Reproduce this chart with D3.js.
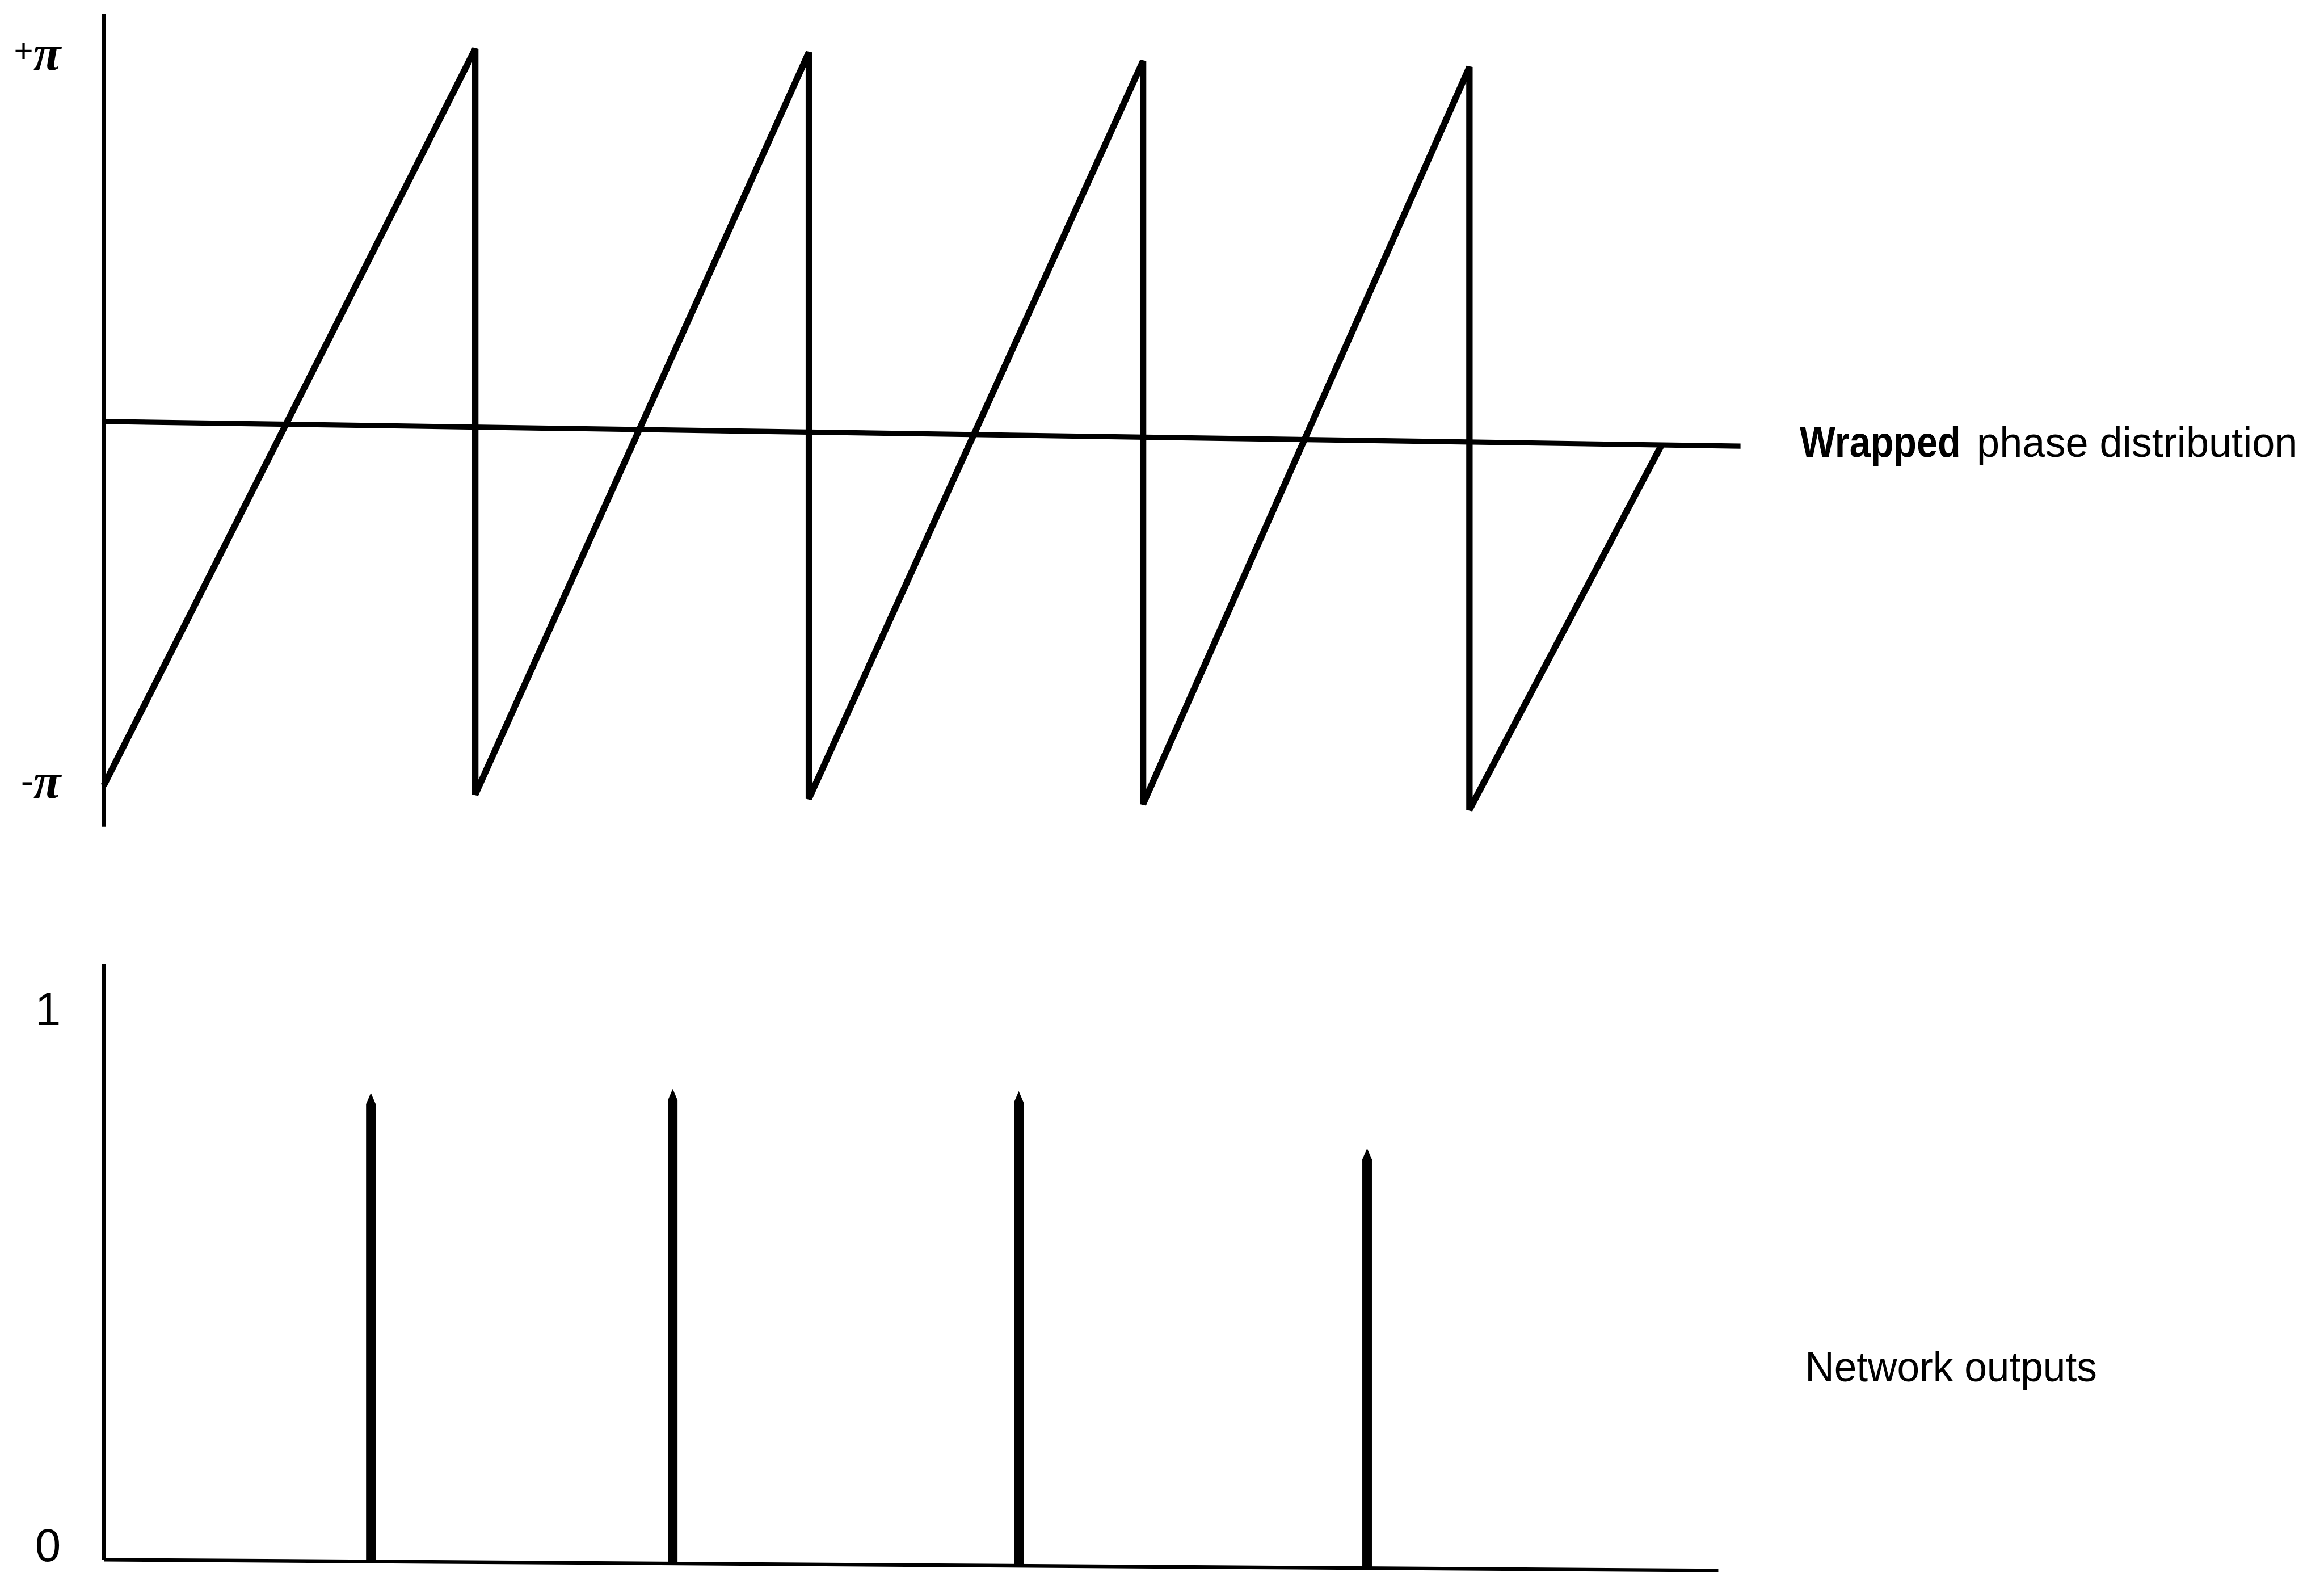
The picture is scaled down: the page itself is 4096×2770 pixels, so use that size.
<!DOCTYPE html>
<html>
<head>
<meta charset="utf-8">
<script src="https://cdn.jsdelivr.net/npm/d3@7"></script>
<style>
  html, body { margin: 0; padding: 0; background: #fff; }
  svg { display: block; }
</style>
</head>
<body>
<script>
// ---- data -------------------------------------------------------------
// Wrapped phase (units of pi) along the sample axis: ramps with 2*pi drops
const phaseX = [0, 11.35, 11.35, 21.54, 21.54, 31.75, 31.75, 41.72, 41.72, 47.59];
const phaseY = [-1.0, 1.039, -1.009, 1.043, -1.007, 1.033, -1.008, 1.030, -1.010, 0.0];
// zero-phase reference line
const zeroX = [0, 50];
const zeroY = [0, 0];
const phaseTicks = [1, -1];
const phaseTickSign = ["+", "-"];
const phaseTickSymbol = ["π", "π"];

// Network outputs (spikes at detected wrap positions)
const outputX = [8.16, 17.38, 27.95, 38.59];
const outputY = [0.855, 0.866, 0.866, 0.766];
const outputTicks = [0, 1];
const outputTickLabels = ["0", "1"];

const phaseLabel = ["Wrapped", "phase distribution"];
const outputLabel = "Network outputs";

// ---- layout (drawn in a 5803 x 3924 space, scaled to the window) ----
const W = 5803, H = 3924;
const svg = d3.select("body").append("svg")
  .attr("width", 4096).attr("height", 2770)
  .attr("viewBox", `0 0 ${W} ${H}`);
svg.append("rect").attr("width", W).attr("height", H).attr("fill", "#fff");

const axisX = 259;
const sans = "'Liberation Sans', Arial, Helvetica, sans-serif";
const serif = "'Liberation Serif', 'Times New Roman', serif";

// ---- top panel: wrapped phase ----------------------------------------
const xTop = d3.scaleLinear().domain([0, 50]).range([axisX, 4346]);
const yTop = d3.scaleLinear().domain([-1.112, 1.12]).range([2063, 34]);

const topAxis = svg.append("g").attr("transform", `translate(${axisX},0)`)
  .call(d3.axisLeft(yTop).tickValues(phaseTicks).tickSize(0).tickSizeOuter(0).tickFormat(() => ""));
topAxis.select(".domain").attr("stroke", "#000").attr("stroke-width", 9);
topAxis.selectAll(".tick text").each(function(d, i) {
  // sign drawn smaller and raised, pi symbol on the baseline
  const t = d3.select(this)
    .attr("x", -107).attr("y", 30).attr("dy", null)
    .attr("text-anchor", "end")
    .attr("font-family", serif).attr("font-weight", "bold")
    .attr("fill", "#000");
  t.text(null);
  t.append("tspan").attr("font-size", i === 0 ? 86 : 92).attr("font-style", "normal")
    .attr("dy", i === 0 ? -18 : -12).text(phaseTickSign[i]);
  t.append("tspan").attr("font-size", 126).attr("font-style", "italic")
    .attr("dy", i === 0 ? 18 : 12).text(phaseTickSymbol[i]);
});

const topMarks = svg.append("g")
  .attr("transform", `translate(${axisX},0) skewY(0.86) translate(${-axisX},0)`);

const lineGen = d3.line().x(d => xTop(d[0])).y(d => yTop(d[1]));

topMarks.append("path")
  .datum(d3.zip(zeroX, zeroY))
  .attr("d", lineGen)
  .attr("fill", "none").attr("stroke", "#000").attr("stroke-width", 13);

topMarks.append("path")
  .datum(d3.zip(phaseX, phaseY))
  .attr("d", lineGen)
  .attr("fill", "none").attr("stroke", "#000").attr("stroke-width", 16)
  .attr("stroke-linejoin", "miter").attr("stroke-miterlimit", 3);

const tl = svg.append("g").attr("fill", "#000").attr("font-family", sans);
tl.append("text").attr("x", 4494).attr("y", 1140)
  .attr("font-size", 107).attr("font-weight", "bold")
  .attr("textLength", 402).attr("lengthAdjust", "spacingAndGlyphs")
  .text(phaseLabel[0]);
tl.append("text").attr("x", 4936).attr("y", 1140)
  .attr("font-size", 104)
  .attr("textLength", 801).attr("lengthAdjust", "spacingAndGlyphs")
  .text(phaseLabel[1]);

// ---- bottom panel: network outputs -----------------------------------
const xBot = d3.scaleLinear().domain([0, 49.31]).range([axisX, 4290]);
const yBot = d3.scaleLinear().domain([0, 1.088]).range([3893, 2405]);

const botAxis = svg.append("g").attr("transform", `translate(${axisX},0)`)
  .call(d3.axisLeft(yBot).tickValues(outputTicks).tickSize(0).tickSizeOuter(0)
    .tickFormat((d, i) => outputTickLabels[i]));
botAxis.select(".domain").attr("stroke", "#000").attr("stroke-width", 9);
botAxis.selectAll(".tick text")
  .attr("x", -107).attr("dy", (d) => d === 0 ? 4 : 33)
  .attr("text-anchor", "end")
  .attr("font-family", sans).attr("font-size", 116)
  .attr("fill", "#000");

const botMarks = svg.append("g")
  .attr("transform", `translate(${axisX},0) skewY(0.384) translate(${-axisX},0)`);

const baseAxis = botMarks.append("g").attr("transform", `translate(0,${yBot(0)})`)
  .call(d3.axisBottom(xBot).tickValues([]).tickSizeOuter(0));
baseAxis.select(".domain").attr("stroke", "#000").attr("stroke-width", 9);

const half = 12, tip = 28;
botMarks.selectAll("path.spike")
  .data(d3.zip(outputX, outputY))
  .join("path")
  .attr("class", "spike")
  .attr("fill", "#000")
  .attr("d", d => {
    const x = xBot(d[0]), y0 = yBot(0), y1 = yBot(d[1]);
    return `M${x - half},${y0}L${x - half},${y1 + tip}L${x},${y1}L${x + half},${y1 + tip}L${x + half},${y0}Z`;
  });

svg.append("text").attr("x", 4507).attr("y", 3448)
  .attr("font-family", sans).attr("font-size", 104).attr("fill", "#000")
  .attr("textLength", 729).attr("lengthAdjust", "spacingAndGlyphs")
  .text(outputLabel);
</script>
</body>
</html>
